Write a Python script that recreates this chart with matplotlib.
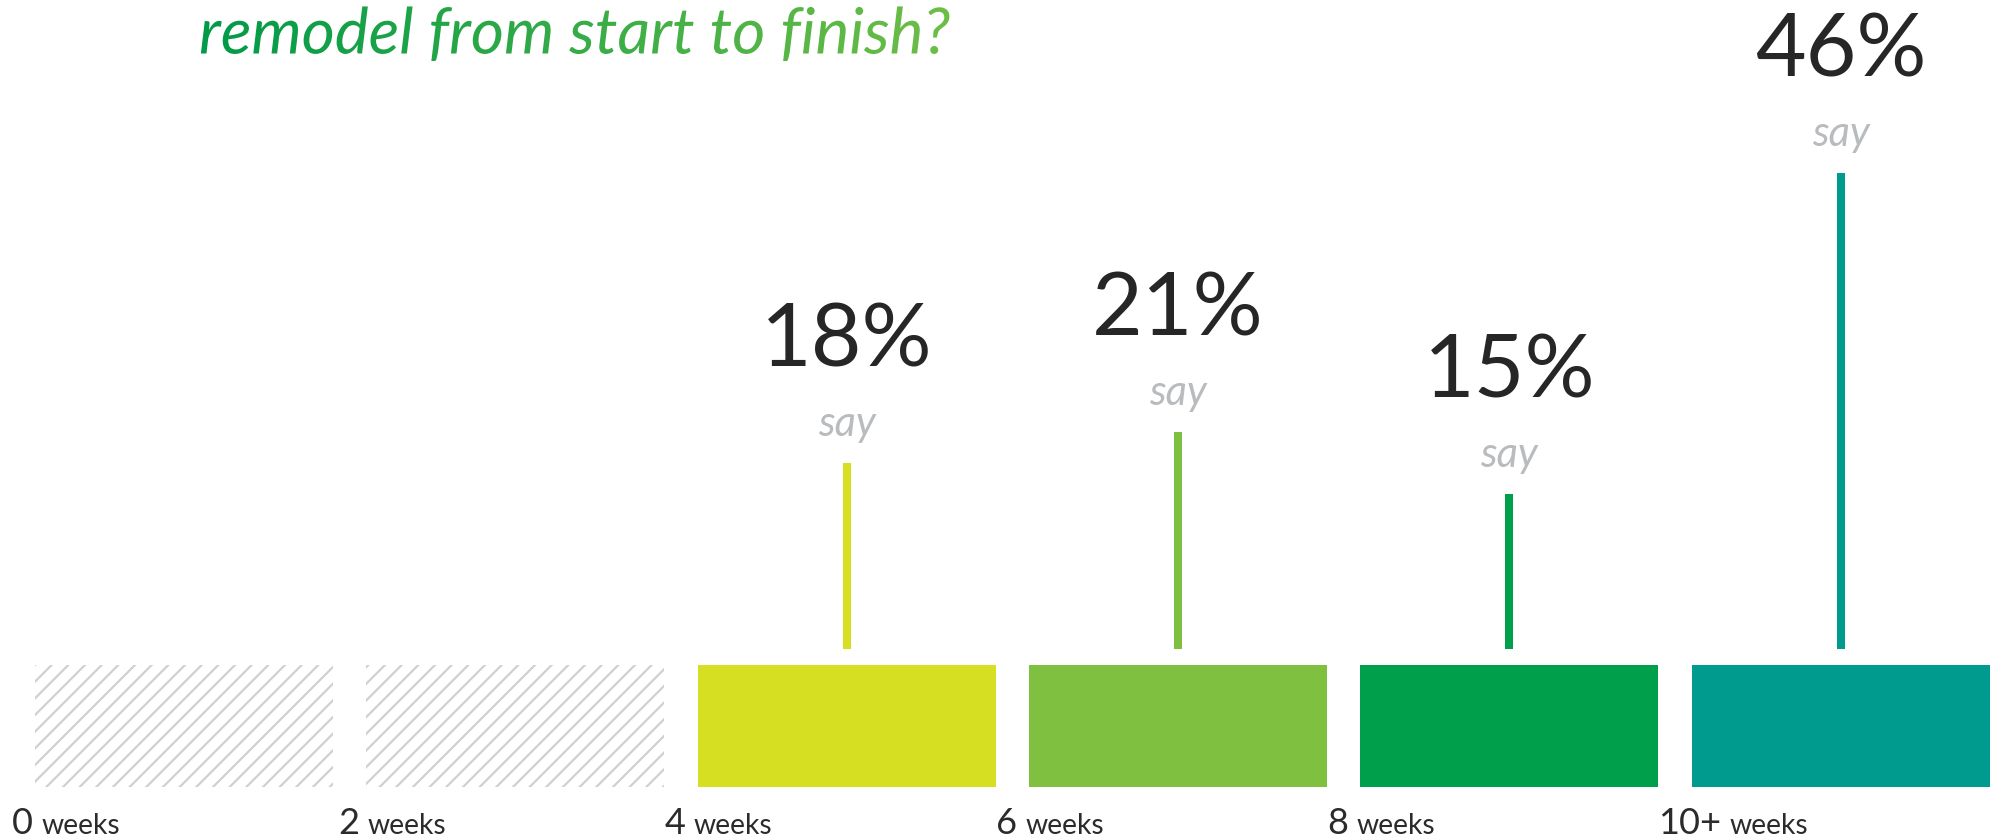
import matplotlib
matplotlib.use("Agg")
import matplotlib.pyplot as plt
import numpy as np
from matplotlib.font_manager import FontProperties
from matplotlib.textpath import TextPath
from matplotlib.patches import PathPatch
from matplotlib.transforms import Affine2D

# data
title = "remodel from start to finish?"
weeks = ["0", "2", "4", "6", "8", "10+"]
share = [np.nan, np.nan, 18, 21, 15, 46]   # % of respondents per bucket
colors = ["none", "none", "#d6df22", "#80c041", "#009f4c", "#009b8f"]
label_nudge = [0.03, 0.015, 0, 0, 0, 0]

plt.rcParams["font.family"] = ["Lato", "DejaVu Sans"]
plt.rcParams["hatch.linewidth"] = 1.6

W, H, DPI = 1997, 840, 100
fig = plt.figure(figsize=(W / DPI, H / DPI), dpi=DPI)
ax = fig.add_axes([0, 0, 1, 1])
ax.set_xlim(-0.5554, 5.472)
ax.set_ylim(-18.41, 62.75)
ax.axis("off")

x = np.arange(len(weeks))

# category blocks
for i in x:
    if np.isnan(share[i]):
        ax.bar(i, -11.76, bottom=-1.5, width=0.9, color="white",
               edgecolor="#d0d0d0", hatch="//", linewidth=0)
    else:
        ax.bar(i, -11.76, bottom=-1.5, width=0.9, color=colors[i], linewidth=0)

# stems + labels
for i in x:
    v = share[i]
    if np.isnan(v):
        continue
    ax.bar(i, v, width=0.024, color=colors[i], linewidth=0)
    ax.text(i, v + 2.6, "say", ha="center", va="baseline", fontsize=30,
            style="italic", color="#b9bcbf")
    ax.text(i, v + 9.37, f"{v:g}%", ha="center", va="baseline", fontsize=63,
            color="#262626")

# axis labels under the blocks
for i in x:
    t = ax.text(i - 0.55 + label_nudge[i], -17.8, weeks[i], ha="left",
                va="baseline", fontsize=26, color="#2b2b2b")
    ax.annotate("weeks", xy=(1, -17.8), xycoords=(t, "data"),
                xytext=(6, 0), textcoords="offset points",
                ha="left", va="baseline", fontsize=20.3, color="#2b2b2b")

# gradient title, clipped to the text outline
tax = fig.add_axes([0, 0, 1, 1], zorder=3)
tax.set_xlim(0, W)
tax.set_ylim(0, H)
tax.axis("off")
fp = FontProperties(family="Lato", style="italic", size=46)
tp = TextPath((0, 0), title, prop=fp)
tr = Affine2D().scale(DPI / 72).translate(199, H - 53.5)
patch = PathPatch(tp, transform=tr + tax.transData, facecolor="none",
                  edgecolor="none")
tax.add_patch(patch)
ext = tp.get_extents().transformed(tr)
grad = np.linspace(0, 1, 256).reshape(1, -1)
cmap = matplotlib.colors.LinearSegmentedColormap.from_list(
    "g", ["#009a49", "#6dbe45"])
im = tax.imshow(grad, cmap=cmap, aspect="auto",
                extent=(ext.x0, ext.x1, ext.y0, ext.y1))
im.set_clip_path(patch)

fig.savefig("out.png", dpi=DPI, facecolor="white")
